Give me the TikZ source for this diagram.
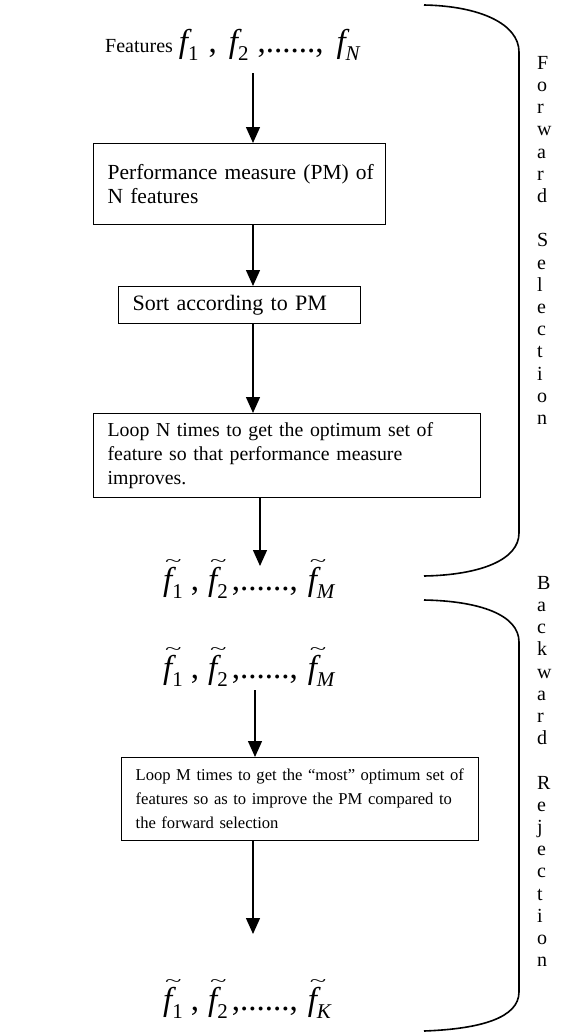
\documentclass[tikz,border=0pt]{standalone}
\usepackage{fontspec}
\setmainfont{Liberation Serif}
\usetikzlibrary{arrows.meta,calc}

% type sizes used in the chart
\newcommand\bodyfont{\fontsize{21.5}{24}\selectfont}
\newcommand\sortfont{\fontsize{22}{24}\selectfont}
\newcommand\loopfont{\fontsize{19.8}{24}\selectfont}
\newcommand\boxfontM{\fontsize{16.6}{24}\selectfont}
\newcommand\labfont{\fontsize{20}{22.2}\selectfont}
\newcommand\mathbig{\fontsize{33}{34}\selectfont}
% italic feature symbol, its subscript, and the tilde-marked form
\newcommand\fsym{{\itshape f}}
\newcommand\fsub[1]{\raisebox{-8pt}{\fontsize{21}{21}\selectfont #1}}
\newcommand\ftil{\makebox[0pt][l]{\hspace{2pt}\raisebox{24pt}{\scalebox{1.9}[1.05]{\fontsize{16}{16}\selectfont\textasciitilde}}}\fsym}
% one row of the tilde-marked set: f1 , f2 ,......, f<last>
\newcommand\tilset[1]{\ftil\fsub{1}\hspace{8pt},\hspace{9pt}\ftil\fsub{2}\hspace{4pt},......,\hspace{10pt}\ftil\fsub{\itshape #1}}

\begin{document}
\begin{tikzpicture}[x=1pt,y=-1pt,
  stepbox/.style={draw,line width=1.3pt,align=left,inner xsep=14pt,inner ysep=0pt,
    anchor=north west,font=\bodyfont},
  arr/.style={line width=1.4pt,-{Triangle[length=16pt,width=14pt]}},
  brace/.style={line width=1.6pt},
  setline/.style={inner sep=0pt,anchor=base west,font=\mathbig},
  sidelab/.style={inner sep=0pt,anchor=north west,align=left,font=\labfont}]

\useasboundingbox (0,0) rectangle (566,1036);

% ---------- forward selection ----------
\node[inner sep=0pt,anchor=base west] (feat) at (105,52)
  {{\fontsize{20}{24}\selectfont Features}\hspace{6pt}{\mathbig\fsym\fsub{1}\hspace{10pt},\hspace{12pt}\fsym\fsub{2}\hspace{9pt},......,\hspace{13pt}\fsym\fsub{\itshape N}}};

\node[stepbox,minimum height=81pt,text width=264pt] (pm) at (93,143)
  {\mbox{Performance measure (PM) of}\\N features};

\node[stepbox,font=\sortfont,minimum height=37pt,text width=214pt] (sort) at (118,286)
  {Sort according to PM};

\node[stepbox,font=\loopfont,minimum height=84pt,text width=359pt] (loopn) at (93,413)
  {\mbox{Loop N times to get the optimum set of}\\\mbox{feature so that performance measure}\\improves.};

\node[setline] (fm1) at (163,590) {\tilset{M}};

% ---------- backward rejection ----------
\node[setline] (fm2) at (163,678) {\tilset{M}};

\node[stepbox,font=\boxfontM,minimum height=83pt,text width=329pt] (loopm) at (121,757)
  {\mbox{Loop M times to get the ``most'' optimum set of}\\\mbox{features so as to improve the PM compared to}\\the forward selection};

\node[setline] (fk) at (163,1010) {\tilset{K}};

% ---------- connectors ----------
\coordinate (ax) at (253,0);
\coordinate (bx) at (260,0);
\coordinate (cx) at (255,0);
\draw[arr] ($(feat.base -| ax)+(0,21)$) -- (pm.north -| ax);
\draw[arr] (pm.south -| ax) -- (sort.north -| ax);
\draw[arr] (sort.south -| ax) -- (loopn.north -| ax);
\draw[arr] (loopn.south -| bx) -- ($(fm1.base -| bx)+(0,-24)$);
\draw[arr] ($(fm2.base -| cx)+(0,12)$) -- (loopm.north -| cx);
\draw[arr] (loopm.south -| ax) -- ($(fk.base -| ax)+(0,-76)$);

% ---------- side braces ----------
\draw[brace] (424,5) .. controls (480,6) and (519,24) .. (519,52)
  -- (519,533) .. controls (519,560) and (480,575) .. (424,576);
\draw[brace] (424,600) .. controls (480,601) and (519,615) .. (519,642)
  -- (519,992) .. controls (519,1018) and (480,1029) .. (424,1031);

\node[sidelab] (fwd) at (537,56)
  {F\\o\\r\\w\\a\\r\\d\\\mbox{}\\S\\e\\l\\e\\c\\t\\i\\o\\n};
\node[sidelab] (bwd) at (537,576)
  {B\\a\\c\\k\\w\\a\\r\\d\\\mbox{}\\R\\e\\j\\e\\c\\t\\i\\o\\n};

\end{tikzpicture}
\end{document}
